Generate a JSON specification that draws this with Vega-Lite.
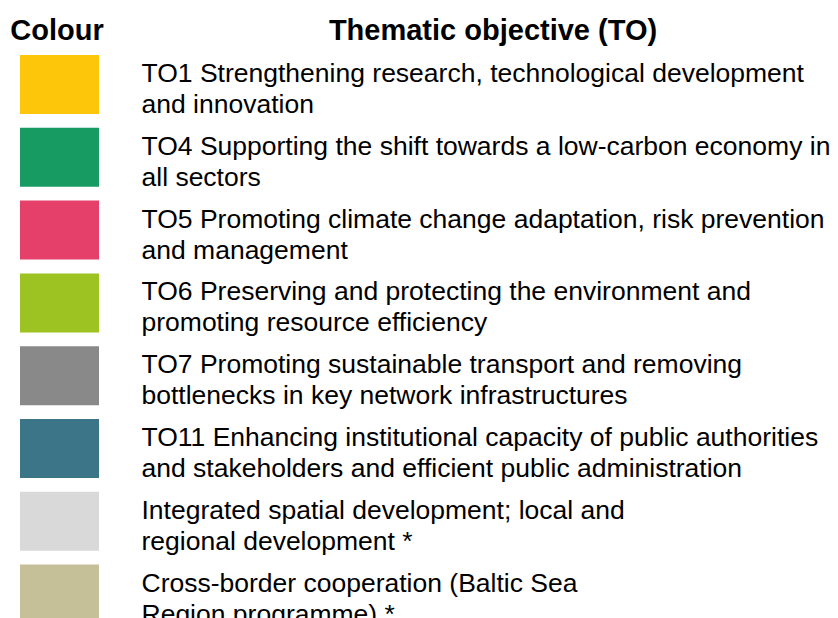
{
  "$schema": "https://vega.github.io/schema/vega-lite/v6.json",
  "width": 838,
  "height": 618,
  "padding": 0,
  "autosize": "none",
  "background": "white",
  "config": {"view": {"stroke": null}, "font": "Liberation Sans"},
  "datasets": {
    "rows": [
      {"row": 1, "item": "TO1", "lines": ["TO1 Strengthening research, technological development", "and innovation"], "colour": "#FEC60B"},
      {"row": 2, "item": "TO4", "lines": ["TO4 Supporting the shift towards a low-carbon economy in", "all sectors"], "colour": "#179B62"},
      {"row": 3, "item": "TO5", "lines": ["TO5 Promoting climate change adaptation, risk prevention", "and management"], "colour": "#E4406A"},
      {"row": 4, "item": "TO6", "lines": ["TO6 Preserving and protecting the environment and", "promoting resource efficiency"], "colour": "#9CC322"},
      {"row": 5, "item": "TO7", "lines": ["TO7 Promoting sustainable transport and removing", "bottlenecks in key network infrastructures"], "colour": "#898989"},
      {"row": 6, "item": "TO11", "lines": ["TO11 Enhancing institutional capacity of public authorities", "and stakeholders and efficient public administration"], "colour": "#3B7587"},
      {"row": 7, "item": "ISD", "lines": ["Integrated spatial development; local and", "regional development *"], "colour": "#D9D9D9"},
      {"row": 8, "item": "BSR", "lines": ["Cross-border cooperation (Baltic Sea", "Region programme) *"], "colour": "#C6C098"}
    ],
    "headers": [
      {"col": "Colour"},
      {"col": "Thematic objective (TO)"}
    ]
  },
  "layer": [
    {
      "data": {"name": "headers"},
      "mark": {"type": "text", "fontSize": 29, "fontWeight": "bold", "align": "center", "baseline": "alphabetic", "dx": -2.5, "dy": 28, "color": "#000000"},
      "encoding": {
        "x": {"field": "col", "type": "nominal", "scale": {"type": "point", "domain": ["Colour", "Thematic objective (TO)"], "range": [59.5, 495.5], "padding": 0}, "axis": null},
        "y": {"datum": 0, "type": "quantitative", "scale": {"domain": [-0.1607, 8.3283], "reverse": true, "nice": false, "zero": false}, "axis": null},
        "text": {"field": "col"}
      }
    },
    {
      "data": {"name": "rows"},
      "mark": {"type": "tick", "orient": "vertical", "size": 59, "thickness": 79, "opacity": 1},
      "encoding": {
        "x": {"datum": "Colour", "type": "nominal"},
        "y": {"field": "row", "type": "quantitative"},
        "color": {"field": "colour", "type": "nominal", "scale": null, "legend": null}
      }
    },
    {
      "data": {"name": "rows"},
      "mark": {"type": "text", "fontSize": 26.5, "align": "left", "baseline": "alphabetic", "lineHeight": 31, "dx": -354, "dy": -2.5, "color": "#000000"},
      "encoding": {
        "x": {"datum": "Thematic objective (TO)", "type": "nominal"},
        "y": {"field": "row", "type": "quantitative"},
        "text": {"field": "lines"}
      }
    }
  ]
}
